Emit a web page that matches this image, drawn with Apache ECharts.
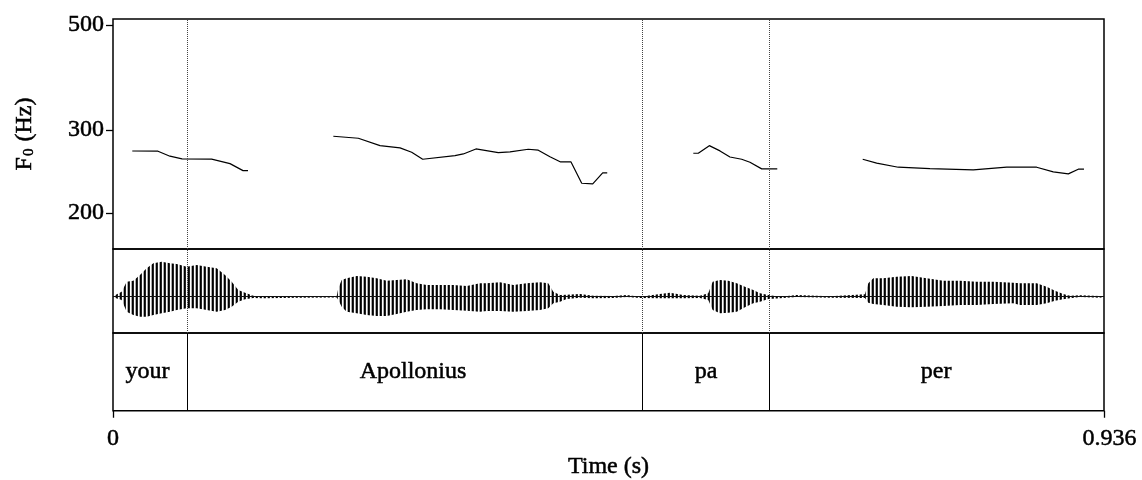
<!DOCTYPE html>
<html><head><meta charset="utf-8">
<script src="https://cdn.jsdelivr.net/npm/echarts@6/dist/echarts.min.js"></script>
<style>html,body{margin:0;padding:0;background:#fff}#c{width:1142px;height:480px}</style>
</head><body><div id="c"></div>
<script>
const T_MAX = 0.936;
const yTicks = [200, 300, 500];
const xTicks = [0, 0.936];
const boundaries = [0.0652, 0.5015, 0.619];
const words = ['your', 'Apollonius', 'pa', 'per'];

const f0Your = [[0.0182,270.8],[0.0425,270.5],[0.0538,264.0],[0.0652,260.5],[0.0932,260.3],[0.1105,254.6],[0.1228,246.1],[0.1275,246.0]];
const f0Apollonius = [[0.2081,290.9],[0.2317,288.1],[0.2522,277.9],[0.2711,275.0],[0.2821,269.2],[0.2925,260.1],[0.3230,264.7],[0.3309,266.9],[0.3428,273.5],[0.3639,268.6],[0.3750,269.5],[0.3922,273.1],[0.4017,271.8],[0.4127,263.4],[0.4228,256.7],[0.4326,256.7],[0.4427,231.4],[0.4531,230.6],[0.4625,243.3],[0.4668,243.3]];
const f0Pa = [[0.5481,267.8],[0.5528,267.8],[0.5632,277.9],[0.5733,270.9],[0.5827,263.0],[0.5938,260.1],[0.6016,256.4],[0.6127,248.2],[0.6274,248.2]];
const f0Per = [[0.7081,260.1],[0.7213,255.2],[0.7417,250.2],[0.7716,248.5],[0.8125,247.0],[0.8441,250.2],[0.8724,250.2],[0.8881,244.6],[0.9023,242.2],[0.9117,247.8],[0.9171,247.8]];

const waveTime = [0,0.0082,0.0129,0.0192,0.0255,0.0318,0.0381,0.0460,0.0538,0.0602,0.0696,0.0791,0.0885,0.0979,0.1058,0.1121,0.1183,0.1247,0.1325,0.1417,0.1766,0.2113,0.2128,0.2160,0.2207,0.2302,0.2396,0.2491,0.2585,0.2679,0.2774,0.2868,0.2963,0.3088,0.3214,0.3341,0.3466,0.3529,0.3655,0.3781,0.3907,0.4033,0.4111,0.4159,0.4222,0.4285,0.4411,0.4537,0.4726,0.4852,0.4977,0.5166,0.5260,0.5386,0.5544,0.5622,0.5664,0.5733,0.5811,0.5891,0.5969,0.6047,0.6111,0.6189,0.6300,0.6457,0.6772,0.7102,0.7134,0.7181,0.7275,0.7402,0.7543,0.7685,0.7842,0.8000,0.8157,0.8314,0.8503,0.8566,0.8724,0.8818,0.8897,0.8975,0.9038,0.9133,0.9322,0.936];
const waveUpper = [0.005,0.05,0.15,0.16,0.217,0.284,0.334,0.35,0.334,0.327,0.30,0.317,0.30,0.284,0.217,0.15,0.067,0.04,0.01,0.0,0.005,0.008,0.084,0.167,0.184,0.207,0.20,0.184,0.16,0.167,0.174,0.134,0.117,0.117,0.117,0.107,0.134,0.134,0.144,0.117,0.134,0.144,0.134,0.05,0.017,0.02,0.027,0.01,0.007,0.017,0.0,0.027,0.04,0.017,0.01,0.034,0.15,0.167,0.16,0.134,0.10,0.067,0.034,0.017,0.0,0.017,0.005,0.024,0.134,0.184,0.184,0.20,0.207,0.184,0.16,0.16,0.15,0.15,0.14,0.134,0.134,0.10,0.06,0.027,0.01,0.014,0.007,0.0];
const waveLower = [-0.005,-0.033,-0.15,-0.183,-0.20,-0.20,-0.183,-0.166,-0.15,-0.133,-0.116,-0.116,-0.133,-0.15,-0.133,-0.10,-0.05,-0.026,-0.013,-0.016,-0.01,-0.008,-0.033,-0.10,-0.15,-0.166,-0.183,-0.193,-0.193,-0.173,-0.15,-0.133,-0.126,-0.126,-0.133,-0.14,-0.15,-0.143,-0.143,-0.15,-0.143,-0.133,-0.116,-0.066,-0.05,-0.023,-0.01,-0.016,-0.013,-0.003,-0.013,-0.016,-0.016,-0.016,-0.013,-0.033,-0.133,-0.166,-0.16,-0.15,-0.106,-0.066,-0.05,-0.023,-0.016,-0.003,-0.01,-0.013,-0.06,-0.073,-0.083,-0.10,-0.106,-0.10,-0.093,-0.083,-0.083,-0.073,-0.066,-0.083,-0.083,-0.066,-0.04,-0.026,-0.016,-0.003,-0.01,0.0];

const FONT = '"Liberation Serif", serif';
const FS = 24;
// slightly heavier than regular, like the reference's rendering
const TXT = {fontFamily: FONT, fontSize: FS, color: '#000', textBorderColor: '#000', textBorderWidth: 0.5};

// vertical stripe pattern imitating the dense oscillation of the waveform
const pat = document.createElement('canvas');
pat.width = 4; pat.height = 1;
const pc = pat.getContext('2d');
pc.fillStyle = '#fff'; pc.fillRect(0, 0, 4, 1);
pc.fillStyle = '#000'; pc.fillRect(0, 0, 1, 1);
pc.fillStyle = '#222'; pc.fillRect(1, 0, 1, 1);
pc.fillStyle = '#aaa'; pc.fillRect(3, 0, 1, 1);

const starts = [0].concat(boundaries);
const ends = boundaries.concat([T_MAX]);

const gridBase = {left: 113, width: 991, show: true, borderColor: '#000', borderWidth: 1.5, backgroundColor: 'transparent'};

function xAx(gi, show) {
  return {
    type: 'value', gridIndex: gi, min: 0, max: T_MAX,
    axisLine: {show: false}, splitLine: {show: false},
    axisTick: {show: show, length: 7, customValues: xTicks, lineStyle: {color: '#000', width: 1.3}},
    axisLabel: Object.assign({show: show, customValues: xTicks, margin: 16,
      formatter: v => (v === 0 ? '0' : '{r|' + v + '}'),
      rich: {r: Object.assign({}, TXT, {padding: [0, 0, 0, 11]})}}, TXT),
    name: show ? 'Time (s)' : '', nameLocation: 'middle', nameGap: 44,
    nameTextStyle: Object.assign({}, TXT)
  };
}

function vLines(type, color) {
  return {
    silent: true, symbol: 'none', label: {show: false},
    lineStyle: {type: type, color: color, width: 1},
    data: boundaries.map(b => ({xAxis: b}))
  };
}

const f0Line = {color: '#000', width: 1.2};

const option = {
  animation: false,
  backgroundColor: '#fff',
  textStyle: {fontFamily: FONT},
  grid: [
    Object.assign({top: 19, height: 230}, gridBase),
    Object.assign({top: 249, height: 84}, gridBase),
    Object.assign({top: 333, height: 78}, gridBase)
  ],
  xAxis: [xAx(0, false), xAx(1, false), xAx(2, true)],
  yAxis: [
    {
      type: 'log', gridIndex: 0, min: 168, max: 515, logBase: 10,
      axisLine: {show: false}, splitLine: {show: false},
      axisTick: {show: true, length: 7, customValues: yTicks, lineStyle: {color: '#000', width: 1.3}},
      axisLabel: Object.assign({customValues: yTicks, margin: 9, formatter: v => String(Math.round(v))}, TXT),
      name: '{f|F}{s|0}{f| (Hz)}', nameLocation: 'middle', nameGap: 76, nameRotate: 90,
      nameTextStyle: {color: '#000', fontFamily: FONT, rich: {
        f: Object.assign({lineHeight: 28, verticalAlign: 'bottom'}, TXT),
        s: Object.assign({}, TXT, {fontSize: 15, lineHeight: 28, verticalAlign: 'bottom', padding: [0, 1, 0, 1]})
      }}
    },
    {type: 'value', gridIndex: 1, min: -0.363, max: 0.477, show: false},
    {type: 'value', gridIndex: 2, min: 0, max: 1, show: false}
  ],
  series: [
    {type: 'line', xAxisIndex: 0, yAxisIndex: 0, data: f0Your, showSymbol: false, lineStyle: f0Line,
      markLine: vLines('dotted', '#444'), z: 3},
    {type: 'line', xAxisIndex: 0, yAxisIndex: 0, data: f0Apollonius, showSymbol: false, lineStyle: f0Line, z: 3},
    {type: 'line', xAxisIndex: 0, yAxisIndex: 0, data: f0Pa, showSymbol: false, lineStyle: f0Line, z: 3},
    {type: 'line', xAxisIndex: 0, yAxisIndex: 0, data: f0Per, showSymbol: false, lineStyle: f0Line, z: 3},
    {
      type: 'custom', xAxisIndex: 1, yAxisIndex: 1, z: 3,
      data: waveTime.map((t, i) => [t, waveUpper[i], waveLower[i]]),
      encode: {x: 0, y: [1, 2]},
      renderItem: function (params, api) {
        if (params.dataIndex !== 0) return null;
        const pts = [];
        for (let i = 0; i < waveTime.length; i++) pts.push(api.coord([waveTime[i], waveUpper[i]]));
        for (let i = waveTime.length - 1; i >= 0; i--) pts.push(api.coord([waveTime[i], waveLower[i]]));
        return {type: 'polygon', shape: {points: pts},
          style: {fill: {image: pat, repeat: 'repeat'}, stroke: null}};
      }
    },
    {type: 'line', xAxisIndex: 1, yAxisIndex: 1, data: [], z: 2,
      markLine: {
        silent: true, symbol: 'none', label: {show: false},
        data: boundaries.map(b => ({xAxis: b, lineStyle: {type: 'dotted', color: '#444', width: 1}}))
          .concat([{yAxis: 0, lineStyle: {type: 'solid', color: '#111', width: 1.2}}])
      }},
    {
      type: 'scatter', xAxisIndex: 2, yAxisIndex: 2, symbolSize: 0, silent: true,
      itemStyle: {opacity: 1},
      data: words.map((w, i) => ({value: [(starts[i] + ends[i]) / 2, 0.5], name: w})),
      label: Object.assign({show: true, position: 'inside', formatter: p => p.name}, TXT),
      markLine: vLines('solid', '#000')
    }
  ]
};

const chart = echarts.init(document.getElementById('c'), null, {renderer: 'canvas'});
chart.setOption(option);
</script>
</body></html>
